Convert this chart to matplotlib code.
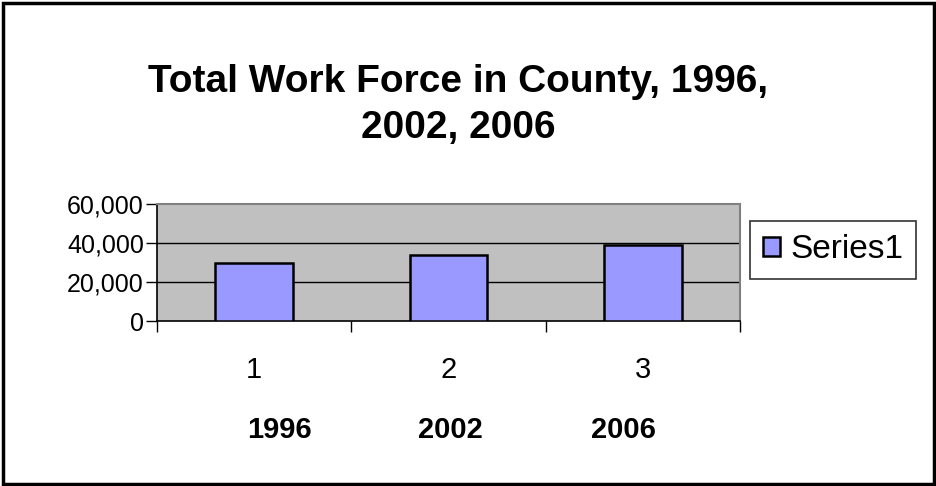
import matplotlib
matplotlib.use("Agg")
import matplotlib.pyplot as plt
from matplotlib.patches import Rectangle
from matplotlib.ticker import FuncFormatter

plt.rcParams["font.family"] = ["Liberation Sans", "DejaVu Sans"]

categories = ["1", "2", "3"]
years = ["1996", "2002", "2006"]
work_force = [30000, 34000, 39000]
series_name = "Series1"
title = "Total Work Force in County, 1996,\n2002, 2006"

# layout (figure fractions)
year_x = [279 / 937, 450 / 937, 623 / 937]
year_y = 1 - 430 / 486


def main() -> None:
    fig = plt.figure(figsize=(9.37, 4.86), dpi=100)
    ax = fig.add_axes([157 / 937, 1 - 321 / 486, (740 - 157) / 937, (321 - 204) / 486])
    ax.set_facecolor("#c0c0c0")

    positions = list(range(len(categories)))
    ax.bar(positions, work_force, width=0.4, color="#9999ff", edgecolor="black",
           linewidth=1.8, label=series_name, zorder=3)

    ax.set_xlim(-0.5, len(categories) - 0.5)
    ax.set_ylim(0, 60000)
    ax.set_yticks([0, 20000, 40000, 60000])
    ax.yaxis.set_major_formatter(FuncFormatter(lambda v, _: f"{int(v):,}"))
    for value in [20000, 40000]:
        ax.axhline(value, color="black", linewidth=1, zorder=2)

    ax.set_xticks(positions)
    ax.set_xticklabels(categories)
    ax.set_xticks([p - 0.5 for p in positions] + [positions[-1] + 0.5], minor=True)
    ax.tick_params(axis="x", which="major", length=0, pad=25, labelsize=21)
    ax.tick_params(axis="x", which="minor", length=8, width=1, direction="out")
    ax.tick_params(axis="y", length=8, width=1, direction="out", labelsize=18, pad=1.5)

    for side in ["top", "right"]:
        ax.spines[side].set_color("#808080")
        ax.spines[side].set_linewidth(1.5)
    for side in ["left", "bottom"]:
        ax.spines[side].set_color("black")
        ax.spines[side].set_linewidth(1.2)

    fig.text(0.489, 1 - 105 / 486, title, ha="center", va="center", fontsize=28,
             fontweight="bold", linespacing=1.38)

    for label, x in zip(years, year_x):
        fig.text(x, year_y, label, ha="center", va="center", fontsize=21, fontweight="bold")

    legend = ax.legend(loc="center left", bbox_to_anchor=(750 / 937, 1 - 250 / 486),
                       bbox_transform=fig.transFigure, fontsize=24, frameon=True,
                       fancybox=False, edgecolor="black", handlelength=0.5,
                       handleheight=0.5, handletextpad=0.3, borderpad=0.4,
                       borderaxespad=0)
    legend.get_frame().set_linewidth(1.2)

    fig.patches.append(Rectangle((0.003, 0.004), 0.994, 0.99, transform=fig.transFigure,
                                 fill=False, edgecolor="black", linewidth=2.5))

    fig.savefig("out.png", dpi=100)
    plt.close(fig)


if __name__ == "__main__":
    main()
